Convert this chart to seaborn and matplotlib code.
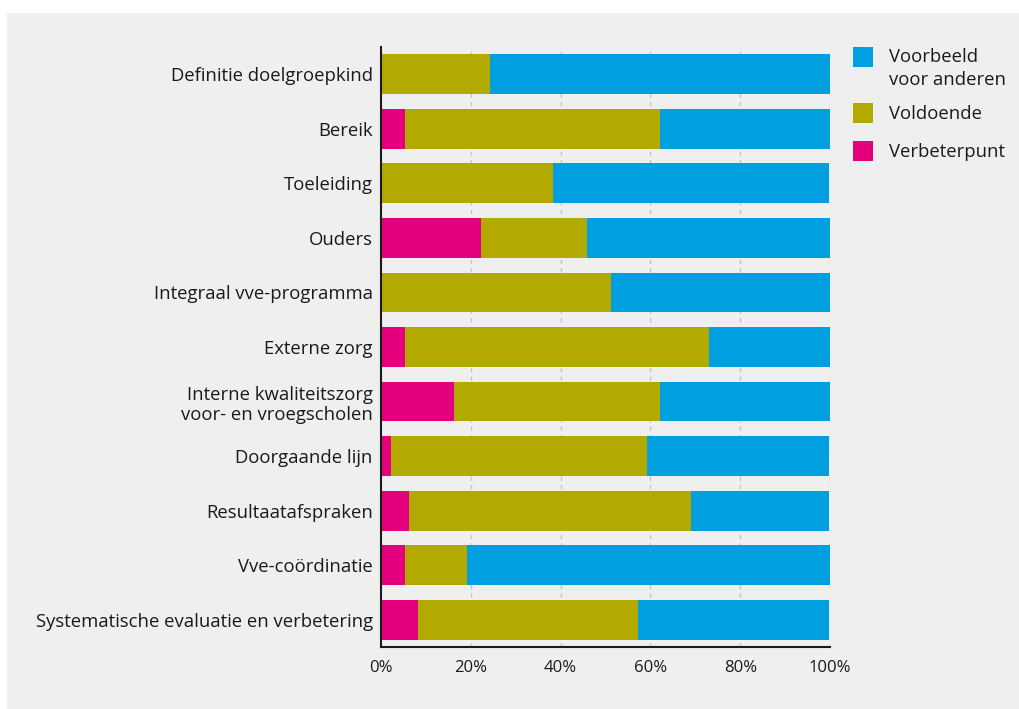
import matplotlib
matplotlib.use('Agg')
import matplotlib.pyplot as plt
from matplotlib.patches import Rectangle
import seaborn as sns

# data (percentages per onderdeel)
categories = ['Definitie doelgroepkind', 'Bereik', 'Toeleiding', 'Ouders',
              'Integraal vve-programma', 'Externe zorg',
              'Interne kwaliteitszorg\nvoor- en vroegscholen', 'Doorgaande lijn',
              'Resultaatafspraken', 'Vve-coördinatie',
              'Systematische evaluatie en verbetering']
verbeterpunt = [0, 5.3, 0, 22.2, 0, 5.3, 16.2, 2.2, 6.2, 5.3, 8.2]
voldoende = [24.3, 56.8, 38.3, 23.7, 51.2, 67.7, 45.9, 57.0, 62.8, 13.9, 49.0]
voorbeeld = [75.7, 37.9, 61.5, 54.1, 48.8, 27.0, 37.9, 40.6, 30.8, 80.8, 42.6]

series = ['Voorbeeld\nvoor anderen', 'Voldoende', 'Verbeterpunt']
colors = ['#009fe0', '#b3aa00', '#e4007c']
bg = '#efefef'
txt = '#1a1a1a'

sns.set_style('white')
plt.rcParams['font.family'] = ['Open Sans', 'DejaVu Sans']

W, H = 1019, 709
fig = plt.figure(figsize=(W / 100, H / 100), dpi=100, facecolor='white')
fig.patches.append(Rectangle((7 / W, 0), 1, 1 - 13 / H, transform=fig.transFigure,
                             facecolor=bg, edgecolor='none', zorder=-10))
ax = fig.add_axes([381 / W, 1 - 647 / H, 449 / W, 600 / H])
ax.set_facecolor(bg)

# stacked: draw cumulative totals back to front
tot_blue = [p + v + b for p, v, b in zip(verbeterpunt, voldoende, voorbeeld)]
tot_yel = [p + v for p, v in zip(verbeterpunt, voldoende)]
for vals, col in [(tot_blue, colors[0]), (tot_yel, colors[1]), (verbeterpunt, colors[2])]:
    sns.barplot(x=vals, y=categories, orient='h', color=col, width=0.73,
                saturation=1, linewidth=0, ax=ax, zorder=3)

ax.set_xlim(0, 100)
ax.set_ylim(10.5, -0.5)
ticks = [0, 20, 40, 60, 80, 100]
ax.set_xticks(ticks)
ax.set_xticklabels([f'{t}%' for t in ticks], fontsize=12, color=txt)
ax.tick_params(axis='x', length=0, pad=9)
ax.tick_params(axis='y', length=0, pad=6, labelsize=13.3, labelcolor=txt)
ax.set_xlabel('')
ax.set_ylabel('')
for xv in ticks[1:]:
    ax.axvline(xv, color='#c4c4c4', lw=1, ls=(0, (3, 3)), zorder=1)
for s in ['top', 'right']:
    ax.spines[s].set_visible(False)
for s in ['left', 'bottom']:
    ax.spines[s].set_color(txt)
    ax.spines[s].set_linewidth(1.5)
    ax.spines[s].set_zorder(4)

# legend (squares + labels)
sq_tops = [47, 103, 141]
text_y = [[57, 80], [114], [152]]
for lab, col, top, ys in zip(series, colors, sq_tops, text_y):
    fig.patches.append(Rectangle((853 / W, 1 - (top + 20) / H), 20 / W, 20 / H,
                                 transform=fig.transFigure, facecolor=col, edgecolor='none'))
    for line, y in zip(lab.split('\n'), ys):
        fig.text(889 / W, 1 - y / H, line, fontsize=13.3, color=txt, va='center', ha='left')

fig.savefig('out.png', dpi=100, facecolor='white')
